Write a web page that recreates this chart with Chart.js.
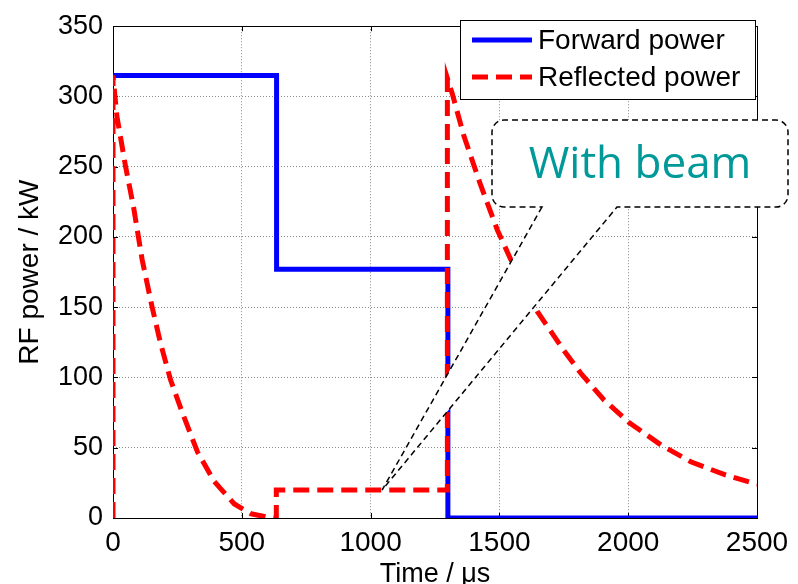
<!DOCTYPE html>
<html>
<head>
<meta charset="utf-8">
<script src="https://cdn.jsdelivr.net/npm/chart.js@4.4.1/dist/chart.umd.min.js"></script>
<style>
  html, body { margin: 0; padding: 0; background: #fff; }
  #wrap { width: 798px; height: 584px; }
</style>
</head>
<body>
<div id="wrap"><canvas id="rfChart" width="798" height="584"></canvas></div>
<script>
// values (time in us, power in kW)
const forwardTime  = [0, 635, 635, 1300, 1300, 2500];
const forwardPower = [315, 315, 177, 177, 0, 0];

const reflectedTime  = [0, 0, 15, 48, 80, 113, 152, 185, 224, 269, 328, 393, 471, 536, 601, 634, 634,
                        1298, 1298, 1317, 1362, 1427, 1492, 1544, 1647, 1751, 1816, 1906, 2003, 2127, 2243, 2372, 2500];
const reflectedPower = [0, 315, 286, 251, 221, 184, 150, 124, 98, 75, 47, 26, 10, 3, 0.5, 0, 20,
                        20, 313, 302, 272, 237, 205, 184, 147, 119, 103, 84, 68, 52, 40, 31, 24];

const seriesNames = ['Forward power', 'Reflected power'];
const xTicks = [0, 500, 1000, 1500, 2000, 2500];
const yTicks = [0, 50, 100, 150, 200, 250, 300, 350];
const calloutText = 'With beam';
const calloutTip = { x: 1045, y: 20 };   // where the callout points, in data units

const FONT = "'Liberation Sans', Arial, sans-serif";

const toPoints = (xs, ys) => xs.map((x, i) => ({ x: x, y: ys[i] }));

// box + inward ticks on all four sides, like the original axes
const frame = {
  id: 'frame',
  beforeDatasetsDraw(chart) {
    const { ctx, chartArea: a, scales: { x, y } } = chart;
    ctx.save();
    ctx.strokeStyle = '#000';
    ctx.lineWidth = 1;
    ctx.beginPath();
    xTicks.forEach(v => {
      const px = Math.round(x.getPixelForValue(v)) + 0.5;
      ctx.moveTo(px, a.bottom); ctx.lineTo(px, a.bottom - 5);
      ctx.moveTo(px, a.top); ctx.lineTo(px, a.top + 5);
    });
    yTicks.forEach(v => {
      const py = Math.round(y.getPixelForValue(v)) + 0.5;
      ctx.moveTo(a.left, py); ctx.lineTo(a.left + 5, py);
      ctx.moveTo(a.right, py); ctx.lineTo(a.right - 5, py);
    });
    ctx.stroke();
    ctx.strokeRect(Math.round(a.left) + 0.5, Math.round(a.top) + 0.5,
                   Math.round(a.right - a.left), Math.round(a.bottom - a.top));
    ctx.restore();
  }
};

// matlab-style legend box in the top right corner + the callout
const overlay = {
  id: 'overlay',
  afterDraw(chart) {
    const { ctx, scales: { x, y } } = chart;
    const ds = chart.data.datasets;

    // legend
    const lx = 460.5, ly = 20.5, lw = 295, lh = 79;
    ctx.save();
    ctx.fillStyle = '#fff';
    ctx.fillRect(lx, ly, lw, lh);
    ctx.strokeStyle = '#000';
    ctx.lineWidth = 1;
    ctx.strokeRect(lx, ly, lw, lh);
    ds.forEach((d, i) => {
      const cy = 40 + i * 37;
      ctx.save();
      ctx.strokeStyle = d.borderColor;
      ctx.lineWidth = d.borderWidth;
      ctx.setLineDash(d.borderDash || []);
      ctx.beginPath();
      ctx.moveTo(472, cy); ctx.lineTo(532, cy);
      ctx.stroke();
      ctx.restore();
      ctx.fillStyle = '#000';
      ctx.font = '28px ' + FONT;
      ctx.textBaseline = 'middle';
      ctx.textAlign = 'left';
      ctx.fillText(d.label, 538, cy + 1);
    });
    ctx.restore();

    // callout: rounded box with a pointer to the flat 20 kW part
    const tx = x.getPixelForValue(calloutTip.x), ty = y.getPixelForValue(calloutTip.y);
    const bx0 = 492, by0 = 120, bx1 = 788, by1 = 207, r = 12;
    const p0 = 542, p1 = 617;
    ctx.save();
    ctx.beginPath();
    ctx.moveTo(p0, by1);
    ctx.lineTo(tx, ty);
    ctx.lineTo(p1, by1);
    ctx.lineTo(bx1 - r, by1);
    ctx.arcTo(bx1, by1, bx1, by1 - r, r);
    ctx.lineTo(bx1, by0 + r);
    ctx.arcTo(bx1, by0, bx1 - r, by0, r);
    ctx.lineTo(bx0 + r, by0);
    ctx.arcTo(bx0, by0, bx0, by0 + r, r);
    ctx.lineTo(bx0, by1 - r);
    ctx.arcTo(bx0, by1, bx0 + r, by1, r);
    ctx.closePath();
    ctx.fillStyle = '#fff';
    ctx.fill();
    ctx.setLineDash([6, 4]);
    ctx.lineWidth = 1.5;
    ctx.strokeStyle = '#000';
    ctx.stroke();
    ctx.fillStyle = '#009999';
    ctx.font = "44px 'Open Sans', sans-serif";
    ctx.textAlign = 'center';
    ctx.textBaseline = 'alphabetic';
    ctx.fillText(calloutText, (bx0 + bx1) / 2, 178);
    ctx.restore();
  }
};

new Chart(document.getElementById('rfChart').getContext('2d'), {
  type: 'line',
  data: {
    datasets: [
      {
        label: seriesNames[0],
        data: toPoints(forwardTime, forwardPower),
        borderColor: '#0000ff',
        borderWidth: 5,
        pointRadius: 0,
        tension: 0,
        clip: 0,
        order: 2
      },
      {
        label: seriesNames[1],
        data: toPoints(reflectedTime, reflectedPower),
        borderColor: '#ff0000',
        borderWidth: 5,
        borderDash: [16, 8],
        borderCapStyle: 'butt',
        pointRadius: 0,
        tension: 0,
        clip: 0,
        order: 1
      }
    ]
  },
  options: {
    responsive: false,
    animation: false,
    layout: { padding: { top: 15, right: 41, left: 0, bottom: 0 } },
    plugins: { legend: { display: false }, tooltip: { enabled: false } },
    scales: {
      x: {
        type: 'linear',
        min: 0, max: 2500,
        afterBuildTicks: s => { s.ticks = xTicks.map(v => ({ value: v })); },
        afterFit: s => { s.height = 66; },
        grid: { color: '#8a8a8a', lineWidth: 1, drawTicks: false },
        border: { display: false, dash: [1, 2] },
        ticks: { color: '#000', font: { family: FONT, size: 28 }, padding: 8, maxRotation: 0,
                 callback: v => String(v) },
        title: { display: true, text: 'Time / \u03bcs', color: '#000',
                 font: { family: FONT, size: 27 }, padding: { top: 0, bottom: -7 } }
      },
      y: {
        type: 'linear',
        min: 0, max: 350,
        afterBuildTicks: s => { s.ticks = yTicks.map(v => ({ value: v })); },
        afterFit: s => { s.width = 113; },
        grid: { color: '#8a8a8a', lineWidth: 1, drawTicks: false },
        border: { display: false, dash: [1, 2] },
        ticks: { color: '#000', font: { family: FONT, size: 27 }, padding: 10,
                 callback: v => String(v) },
        title: { display: true, text: 'RF power / kW', color: '#000',
                 font: { family: FONT, size: 28 }, padding: { top: 13, bottom: 0 } }
      }
    }
  },
  plugins: [frame, overlay]
});
</script>
</body>
</html>
